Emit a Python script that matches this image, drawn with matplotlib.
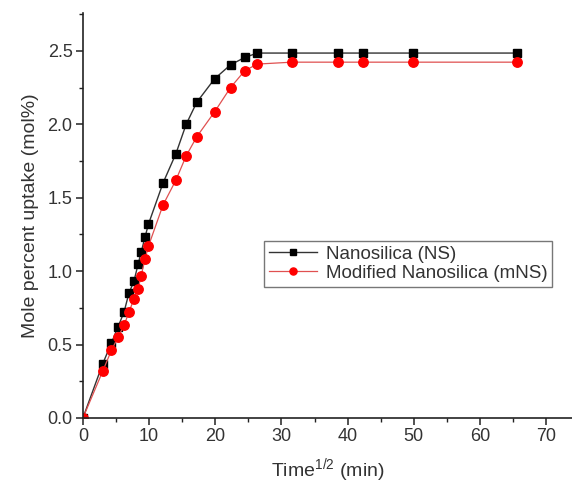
import matplotlib.pyplot as plt
from matplotlib.ticker import MultipleLocator

plt.rcParams['font.family'] = ['Liberation Sans', 'DejaVu Sans']

# time^(1/2) values shared by both series
time_sqrt = [0, 3.0, 4.3, 5.3, 6.2, 6.95, 7.7, 8.35, 8.8, 9.4, 9.9, 12.1, 14.05,
             15.6, 17.2, 19.9, 22.3, 24.45, 26.35, 31.6, 38.6, 42.3, 49.9, 65.6]

# Nanosilica (NS)
ns_uptake = [0, 0.37, 0.51, 0.62, 0.72, 0.85, 0.93, 1.05, 1.13, 1.235, 1.32, 1.60, 1.80,
             2.00, 2.15, 2.31, 2.405, 2.455, 2.485, 2.485, 2.485, 2.485, 2.485, 2.485]

# Modified Nanosilica (mNS)
mns_uptake = [0, 0.32, 0.46, 0.55, 0.63, 0.72, 0.81, 0.88, 0.97, 1.085, 1.17, 1.45, 1.62,
              1.785, 1.915, 2.085, 2.25, 2.365, 2.41, 2.423, 2.423, 2.423, 2.423, 2.423]

fig = plt.figure(figsize=(5.72, 4.86), dpi=100)
ax = fig.add_axes([0.145, 0.14, 0.855, 0.833])

ax.plot(time_sqrt, ns_uptake, color='#333333', lw=1.0, marker='s', ms=6,
        mfc='black', mec='black', label='Nanosilica (NS)')
ax.plot(time_sqrt, mns_uptake, color='#e05050', lw=0.9, marker='o', ms=6.8,
        mfc='red', mec='red', label='Modified Nanosilica (mNS)')

ax.set_xlim(0, 73.9)
ax.set_ylim(0, 2.757)
ax.xaxis.set_major_locator(MultipleLocator(10))
ax.xaxis.set_minor_locator(MultipleLocator(5))
ax.yaxis.set_major_locator(MultipleLocator(0.5))
ax.yaxis.set_minor_locator(MultipleLocator(0.25))
ax.yaxis.set_major_formatter(plt.FormatStrFormatter('%.1f'))

for side in ['top', 'right']:
    ax.spines[side].set_visible(False)
for side in ['left', 'bottom']:
    ax.spines[side].set_linewidth(1.2)
    ax.spines[side].set_color('#222222')

ax.tick_params(which='major', direction='out', length=5, width=1.1, pad=2.5,
               labelsize=13, colors='#222222', labelcolor='#333333')
ax.tick_params(which='minor', direction='out', length=3, width=1.0, colors='#222222')

ax.set_xlabel('Time$^{\\mathregular{1/2}}$ (min)', fontsize=14, color='#333333', labelpad=8)
ax.set_ylabel('Mole percent uptake (mol%)', fontsize=14, color='#333333', labelpad=6)

leg = ax.legend(loc='upper left', bbox_to_anchor=(264 / 572, 1 - 241 / 486),
                bbox_transform=fig.transFigure, fontsize=13.5, fancybox=False,
                frameon=True, handlelength=2.6, borderpad=0.25, labelspacing=0.1,
                handletextpad=0.45, borderaxespad=0, markerscale=0.75)
leg.get_frame().set_edgecolor('#555555')
leg.get_frame().set_linewidth(1.0)
for t in leg.get_texts():
    t.set_color('#333333')

fig.savefig('out.png', dpi=100)
